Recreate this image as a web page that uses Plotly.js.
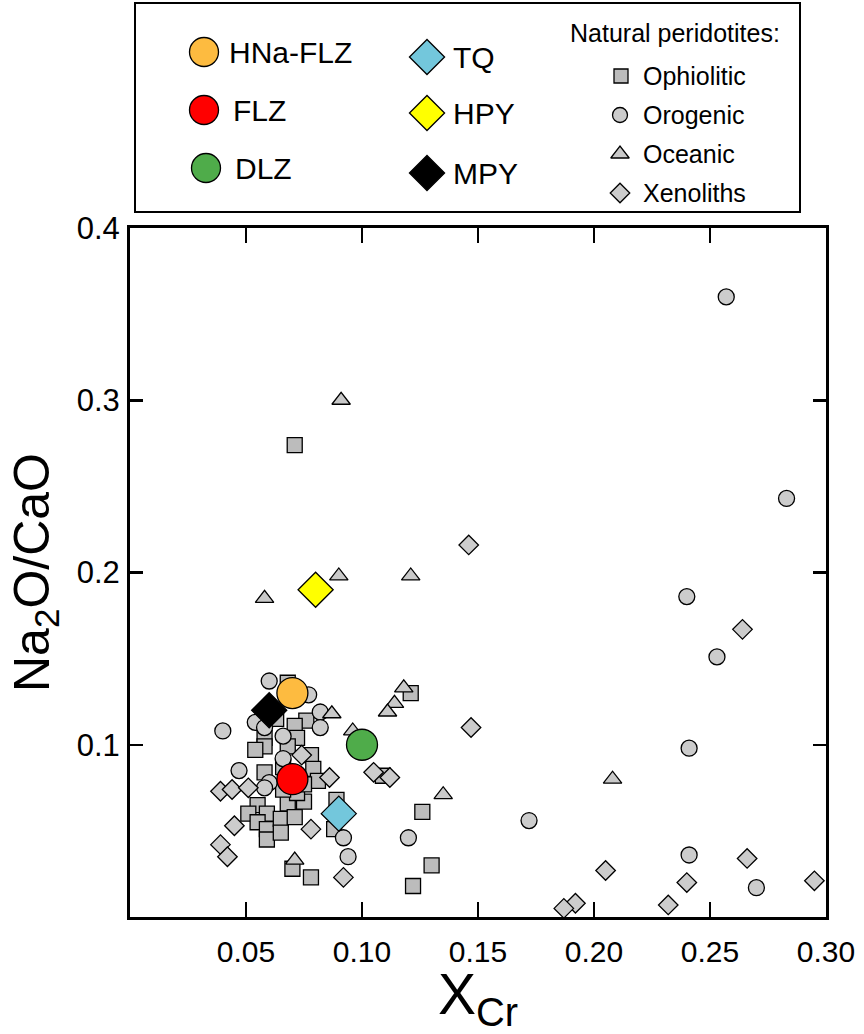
<!DOCTYPE html>
<html>
<head>
<meta charset="utf-8">
<script src="https://cdn.plot.ly/plotly-3.0.1.min.js"></script>
<style>
  html, body { margin: 0; padding: 0; background: #ffffff; }
  #chart { width: 864px; height: 1034px; }
</style>
</head>
<body>
<div id="chart"></div>
<script>
// Natural peridotites: X_Cr vs Na2O/CaO
const ophioliticX = [0.071, 0.121, 0.126, 0.130, 0.122, 0.078, 0.070, 0.109, 0.089, 0.088,
  0.068, 0.076, 0.071, 0.072, 0.058, 0.058, 0.054, 0.068, 0.078, 0.058,
  0.079, 0.081, 0.055, 0.051, 0.059, 0.055, 0.059, 0.059, 0.065, 0.065,
  0.068, 0.071, 0.075, 0.072, 0.066, 0.075, 0.063, 0.066];
const ophioliticY = [0.274, 0.130, 0.061, 0.030, 0.018, 0.023, 0.028, 0.082, 0.068, 0.051,
  0.136, 0.114, 0.111, 0.104, 0.104, 0.099, 0.097, 0.099, 0.094, 0.084,
  0.086, 0.079, 0.065, 0.060, 0.060, 0.055, 0.051, 0.045, 0.057, 0.049,
  0.066, 0.058, 0.067, 0.072, 0.074, 0.077, 0.115, 0.087];

const orogenicX = [0.257, 0.283, 0.240, 0.253, 0.241, 0.241, 0.270, 0.172, 0.120, 0.092,
  0.094, 0.040, 0.047, 0.060, 0.077, 0.082, 0.082, 0.054, 0.058, 0.066,
  0.066, 0.060, 0.058];
const orogenicY = [0.360, 0.243, 0.186, 0.151, 0.098, 0.036, 0.017, 0.056, 0.046, 0.046,
  0.035, 0.108, 0.085, 0.137, 0.129, 0.119, 0.110, 0.113, 0.110, 0.105,
  0.092, 0.078, 0.075];

const oceanicX = [0.091, 0.058, 0.090, 0.121, 0.118, 0.114, 0.111, 0.096, 0.087, 0.135, 0.208, 0.071];
const oceanicY = [0.300, 0.185, 0.198, 0.198, 0.133, 0.124, 0.119, 0.108, 0.118, 0.071, 0.080, 0.033];

const xenolithsX = [0.146, 0.147, 0.264, 0.105, 0.112, 0.074, 0.086, 0.078, 0.092, 0.039,
  0.044, 0.051, 0.045, 0.039, 0.042, 0.205, 0.192, 0.187, 0.232, 0.240,
  0.266, 0.295];
const xenolithsY = [0.216, 0.110, 0.167, 0.084, 0.081, 0.094, 0.081, 0.051, 0.023, 0.073,
  0.074, 0.075, 0.053, 0.042, 0.035, 0.027, 0.008, 0.005, 0.007, 0.020,
  0.034, 0.021];

// Experimental compositions
const expNames = ["HNa-FLZ", "FLZ", "DLZ", "TQ", "HPY", "MPY"];
const expX = [0.07, 0.07, 0.10, 0.09, 0.08, 0.06];
const expY = [0.13, 0.08, 0.10, 0.06, 0.19, 0.12];

const xTickVals = [0.05, 0.10, 0.15, 0.20, 0.25, 0.30];
const xTickText = ["0.05", "0.10", "0.15", "0.20", "0.25", "0.30"];
const yTickVals = [0.1, 0.2, 0.3, 0.4];
const yTickText = ["0.1", "0.2", "0.3", "0.4"];

const REG = "Liberation Sans, Arial, Helvetica, sans-serif";
const NARROW = "Liberation Sans Narrow, Arial Narrow, Liberation Sans, Arial, sans-serif";

const expStyle = {
  "HNa-FLZ": { symbol: "circle", color: "#fdbb40", size: 31 },
  "FLZ":     { symbol: "circle", color: "#ff0000", size: 31 },
  "DLZ":     { symbol: "circle", color: "#4fac4a", size: 31 },
  "TQ":      { symbol: "diamond", color: "#73c7dc", size: 27 },
  "HPY":     { symbol: "diamond", color: "#ffff00", size: 27 },
  "MPY":     { symbol: "diamond", color: "#000000", size: 27 }
};

const natGroups = [
  { name: "Ophiolitic", x: ophioliticX, y: ophioliticY, symbol: "square", color: "#bcbcbc", size: 15, key: 14 },
  { name: "Orogenic",   x: orogenicX,   y: orogenicY,   symbol: "circle", color: "#cccccc", size: 16, key: 15 },
  { name: "Oceanic",    x: oceanicX,    y: oceanicY,    symbol: "triangle-up", color: "#c9c9c9", size: 16, key: 16 },
  { name: "Xenoliths",  x: xenolithsX,  y: xenolithsY,  symbol: "diamond", color: "#cccccc", size: 15, key: 15 }
];

const traces = [];
natGroups.forEach(g => {
  traces.push({
    type: "scatter", mode: "markers", name: g.name, x: g.x, y: g.y,
    xaxis: "x", yaxis: "y", showlegend: false, cliponaxis: false,
    marker: { symbol: g.symbol, size: g.size, color: g.color, opacity: 1,
      line: { color: "#000000", width: 1.3 } }
  });
});
expNames.forEach((n, i) => {
  const s = expStyle[n];
  traces.push({
    type: "scatter", mode: "markers", name: n, x: [expX[i]], y: [expY[i]],
    xaxis: "x", yaxis: "y", showlegend: false, cliponaxis: false,
    marker: { symbol: s.symbol, size: s.size, color: s.color, opacity: 1,
      line: { color: "#000000", width: 1.3 } }
  });
});

// Key panel above the plot, laid out on a pixel-scaled helper axis pair
const keyAnn = [];
const keyMarkers = { x: [], y: [], symbol: [], size: [], color: [] };
function keyItem(px, py, tx, label, symbol, size, color, fsize) {
  keyMarkers.x.push(px); keyMarkers.y.push(py);
  keyMarkers.symbol.push(symbol); keyMarkers.size.push(size); keyMarkers.color.push(color);
  keyAnn.push({ xref: "x2", yref: "y2", x: tx, y: py, text: label, showarrow: false,
    xanchor: "left", yanchor: "middle", font: { family: NARROW, size: fsize, color: "#000" } });
}
const colA = [[204, 52, 227], [204, 110, 231], [206, 168, 233]];
const colB = [[427, 57, 451], [427, 113, 451], [427, 173, 451]];
expNames.forEach((n, i) => {
  const s = expStyle[n];
  const pos = i < 3 ? colA[i] : colB[i - 3];
  keyItem(pos[0], pos[1], pos[2], n, s.symbol, i < 3 ? 29 : 27, s.color, 30);
});
const colC = [[621, 76], [620, 115], [620, 154], [620, 193]];
natGroups.forEach((g, i) => {
  keyItem(colC[i][0], colC[i][1], 641, g.name, g.symbol, g.key, g.color, 25);
});
keyAnn.push({ xref: "x2", yref: "y2", x: 675, y: 33, text: "Natural peridotites:", showarrow: false,
  xanchor: "center", yanchor: "middle", font: { family: NARROW, size: 25, color: "#000" } });

traces.push({
  type: "scatter", mode: "markers", x: keyMarkers.x, y: keyMarkers.y,
  xaxis: "x2", yaxis: "y2", showlegend: false, hoverinfo: "skip", cliponaxis: false,
  marker: { symbol: keyMarkers.symbol, size: keyMarkers.size, color: keyMarkers.color, opacity: 1,
    line: { color: "#000000", width: 1.3 } }
});

const layout = {
  width: 864, height: 1034,
  margin: { l: 130, r: 38, t: 0, b: 117, pad: 0 },
  paper_bgcolor: "#ffffff",
  plot_bgcolor: "rgba(0,0,0,0)",
  showlegend: false,
  xaxis: {
    domain: [0, 1], range: [0, 0.30], autorange: false,
    tickvals: xTickVals, ticktext: xTickText,
    ticks: "inside", ticklen: 15, tickwidth: 2.5, tickcolor: "#000",
    showline: true, linewidth: 3, linecolor: "#000", mirror: "ticks",
    showgrid: false, zeroline: false, ticklabelstandoff: 6,
    tickfont: { family: NARROW, size: 30, color: "#000" },
    title: { text: "X<sub>Cr</sub>", font: { family: REG, size: 57, color: "#000" }, standoff: 17 }
  },
  yaxis: {
    domain: [0, 689 / 917], range: [0, 0.40], autorange: false,
    tickvals: yTickVals, ticktext: yTickText,
    ticks: "inside", ticklen: 13, tickwidth: 2.5, tickcolor: "#000",
    showline: true, linewidth: 3, linecolor: "#000", mirror: "ticks",
    showgrid: false, zeroline: false, ticklabelstandoff: 1,
    tickfont: { family: REG, size: 31, color: "#000" },
    title: { text: "Na<sub>2</sub>O/CaO", font: { family: REG, size: 50, color: "#000" }, standoff: 12 }
  },
  xaxis2: { domain: [0, 1], range: [130, 826], autorange: false, visible: false, anchor: "y2" },
  yaxis2: { domain: [0, 1], range: [917, 0], autorange: false, visible: false, anchor: "x2" },
  shapes: [
    { type: "rect", xref: "x2", yref: "y2", x0: 135, x1: 800, y0: 3, y1: 212,
      line: { color: "#000", width: 2 }, fillcolor: "rgba(0,0,0,0)" }
  ],
  annotations: keyAnn
};

Plotly.newPlot("chart", traces, layout, { displayModeBar: false, staticPlot: true });
</script>
</body>
</html>
